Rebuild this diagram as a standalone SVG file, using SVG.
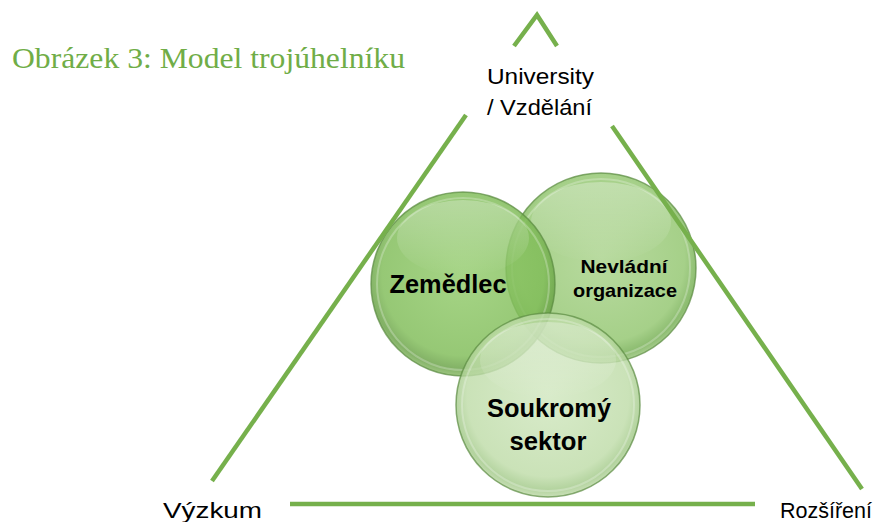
<svg xmlns="http://www.w3.org/2000/svg" width="875" height="522" viewBox="0 0 875 522">
<defs>
<style>
.tri{stroke:#76b04c;stroke-width:4.5;fill:none;stroke-linecap:butt}
.lbl{font-family:"Liberation Sans",Arial,sans-serif;font-size:22px;fill:#000}
.nl{font-family:"Liberation Sans",Arial,sans-serif;font-weight:bold;fill:#000;text-anchor:middle}
.title{font-family:"Liberation Serif","Times New Roman",serif;font-size:29px;fill:#70ad47}
.rim{fill:none;stroke:#5a8a40;stroke-width:1.5;stroke-opacity:0.7}
.inner{fill:none;stroke:#ffffff;stroke-width:2;stroke-opacity:0.25}
</style>
<radialGradient id="gA" cx="50%" cy="45%" r="55%">
<stop offset="0" stop-color="#92cb6b"/>
<stop offset="0.8" stop-color="#7fbc57"/>
<stop offset="0.93" stop-color="#67a044"/>
<stop offset="1" stop-color="#88b966"/>
</radialGradient>
<radialGradient id="gB" cx="50%" cy="45%" r="55%">
<stop offset="0" stop-color="#b0d694"/>
<stop offset="0.8" stop-color="#9ccb7c"/>
<stop offset="0.93" stop-color="#80b561"/>
<stop offset="1" stop-color="#a2ca87"/>
</radialGradient>
<radialGradient id="gC" cx="50%" cy="45%" r="55%">
<stop offset="0" stop-color="#cfe6bd"/>
<stop offset="0.8" stop-color="#bddba6"/>
<stop offset="0.93" stop-color="#a0c886"/>
<stop offset="1" stop-color="#bcd8a6"/>
</radialGradient>
<linearGradient id="hl" x1="0" y1="0" x2="0" y2="1">
<stop offset="0" stop-color="#ffffff" stop-opacity="0.3"/>
<stop offset="1" stop-color="#ffffff" stop-opacity="0"/>
</linearGradient>
</defs>
<rect width="875" height="522" fill="#ffffff"/>
<text class="title" x="12" y="68" textLength="393" lengthAdjust="spacingAndGlyphs">Obrázek 3: Model trojúhelníku</text>
<g id="n-nevladni">
<circle cx="601" cy="268" r="95" fill="url(#gB)" fill-opacity="0.9"/>
<ellipse cx="601" cy="222" rx="70" ry="40" fill="url(#hl)"/>
<circle class="inner" cx="601" cy="268" r="89"/>
<circle class="rim" cx="601" cy="268" r="95"/>
</g>
<g id="n-zemedlec">
<circle cx="463" cy="284" r="92" fill="url(#gA)" fill-opacity="0.82"/>
<ellipse cx="463" cy="238" rx="66" ry="38" fill="url(#hl)"/>
<circle class="inner" cx="463" cy="284" r="86"/>
<circle class="rim" cx="463" cy="284" r="92"/>
</g>
<g id="n-soukromy">
<circle cx="548" cy="405" r="92" fill="url(#gC)" fill-opacity="0.8"/>
<ellipse cx="548" cy="360" rx="68" ry="38" fill="url(#hl)"/>
<circle class="inner" cx="548" cy="405" r="86"/>
<circle class="rim" cx="548" cy="405" r="92"/>
</g>
<g id="connectors">
<polyline class="tri" points="514,46 537,15 557,46"/>
<line class="tri" x1="466" y1="115" x2="212" y2="481"/>
<line class="tri" x1="612" y1="126" x2="862" y2="489"/>
<line class="tri" x1="290" y1="504" x2="755" y2="504"/>
</g>
<g id="labels-nodes">
<text class="nl" x="448" y="293" font-size="25" textLength="117" lengthAdjust="spacingAndGlyphs">Zemědlec</text>
<text class="nl" x="624" y="273" font-size="19" textLength="87" lengthAdjust="spacingAndGlyphs">Nevládní</text>
<text class="nl" x="625" y="297" font-size="19" textLength="104" lengthAdjust="spacingAndGlyphs">organizace</text>
<text class="nl" x="549" y="417" font-size="25" textLength="124" lengthAdjust="spacingAndGlyphs">Soukromý</text>
<text class="nl" x="548" y="450" font-size="25" textLength="77" lengthAdjust="spacingAndGlyphs">sektor</text>
</g>
<g id="n-university">
<text class="lbl" x="487" y="84" textLength="107" lengthAdjust="spacingAndGlyphs">University</text>
<text class="lbl" x="487" y="115" textLength="105" lengthAdjust="spacingAndGlyphs">/ Vzdělání</text>
</g>
<g id="n-vyzkum"><text class="lbl" x="163" y="518" textLength="99" lengthAdjust="spacingAndGlyphs">Výzkum</text></g>
<g id="n-rozsireni"><text class="lbl" x="780" y="518" textLength="92" lengthAdjust="spacingAndGlyphs">Rozšíření</text></g>
</svg>
